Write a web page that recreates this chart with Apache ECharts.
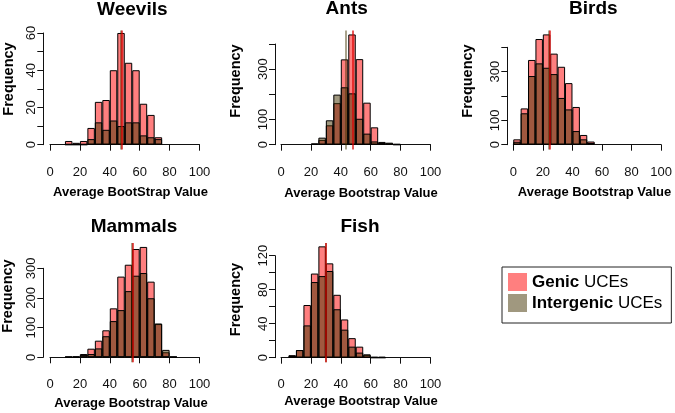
<!DOCTYPE html>
<html>
<head>
<meta charset="utf-8">
<script src="https://cdn.jsdelivr.net/npm/echarts@6/dist/echarts.min.js"></script>
<style>
  html, body { margin: 0; padding: 0; background: #fff; }
  #main { width: 675px; height: 413px; }
</style>
</head>
<body>
<div id="main"></div>
<script>
// bin midpoints (bins are 5 wide) and counts
var weevilsMids  = [12.5, 17.5, 22.5, 27.5, 32.5, 37.5, 42.5, 47.5, 52.5, 57.5, 62.5, 67.5, 72.5];
var weevilsGenic = [2, 1, 2, 9, 23, 24, 40, 60, 44, 40, 22, 16, 4];
var weevilsInter = [0, 0, 0, 3, 12, 8, 13, 10, 12, 12, 5, 4, 3];
var weevilsMeans = [48, 47.6];          // [genic, intergenic]
var weevilsYLabels = [0, 20, 40, 60];

var antsMids  = [22.5, 27.5, 32.5, 37.5, 42.5, 47.5, 52.5, 57.5, 62.5, 67.5, 72.5, 77.5];
var antsGenic = [3, 19, 77, 165, 339, 438, 340, 167, 69, 11, 5, 0];
var antsInter = [5, 28, 97, 199, 228, 204, 103, 44, 13, 7, 8, 3];
var antsMeans = [47.8, 43.3];
var antsYLabels = [0, 100, 300];

var birdsMids  = [2.5, 7.5, 12.5, 17.5, 22.5, 27.5, 32.5, 37.5, 42.5, 47.5, 52.5];
var birdsGenic = [22, 149, 348, 434, 453, 374, 320, 253, 155, 40, 13];
var birdsInter = [12, 129, 282, 334, 316, 290, 192, 145, 56, 22, 7];
var birdsMeans = [24.8, 23.7];
var birdsYLabels = [0, 100, 300];

var mammalsMids  = [12.5, 17.5, 22.5, 27.5, 32.5, 37.5, 42.5, 47.5, 52.5, 57.5, 62.5, 67.5, 72.5, 77.5, 82.5];
var mammalsGenic = [2, 2, 11, 29, 56, 91, 165, 272, 312, 365, 372, 255, 112, 17, 1];
var mammalsInter = [1, 2, 8, 11, 30, 71, 122, 159, 223, 275, 284, 199, 114, 25, 2];
var mammalsMeans = [55.4, 55];
var mammalsYLabels = [0, 100, 200, 300];

var fishMids  = [7.5, 12.5, 17.5, 22.5, 27.5, 32.5, 37.5, 42.5, 47.5, 52.5, 57.5, 62.5, 67.5];
var fishGenic = [3, 9, 62, 99, 131, 111, 74, 45, 23, 13, 3, 0, 0];
var fishInter = [2, 9, 38, 89, 96, 102, 57, 33, 13, 6, 4, 1, 1];
var fishMeans = [30.1, 30];
var fishYLabels = [0, 40, 80, 120];

var GENIC = 'rgba(255,0,0,0.5)';
var INTER = 'rgba(65,50,0,0.5)';
var FONT = 'Liberation Sans';
var KX = 1.495; // px per x unit

// panel layout (pixels)
var panels = [
  { title: 'Weevils', xlab: 'Average BootStrap Value', mids: weevilsMids, genic: weevilsGenic, inter: weevilsInter,
    means: weevilsMeans, yLabels: weevilsYLabels, yMax: 60, yStep: 10,
    x0: 50, yAxisX: 43.3, y0: 144.7, ky: 1.862, top: 30.5, bottom: 149.5,
    titleXY: [132.3, 10], xlabXY: [130.5, 192.3], ylabXY: [8.8, 79] },
  { title: 'Ants', xlab: 'Average Bootstrap Value', mids: antsMids, genic: antsGenic, inter: antsInter,
    means: antsMeans, yLabels: antsYLabels, yMax: 400, yStep: 100,
    x0: 281, yAxisX: 275, y0: 144.7, ky: 0.2517, top: 30.5, bottom: 149.5,
    titleXY: [346.7, 8.8], xlabXY: [361, 193], ylabXY: [236, 81] },
  { title: 'Birds', xlab: 'Average Bootstrap Value', mids: birdsMids, genic: birdsGenic, inter: birdsInter,
    means: birdsMeans, yLabels: birdsYLabels, yMax: 400, yStep: 100,
    x0: 513.3, yAxisX: 507.3, y0: 144.7, ky: 0.2435, top: 30.5, bottom: 149.5,
    titleXY: [593.3, 8.3], xlabXY: [594.5, 192.7], ylabXY: [468.3, 81] },
  { title: 'Mammals', xlab: 'Average Bootstrap Value', mids: mammalsMids, genic: mammalsGenic, inter: mammalsInter,
    means: mammalsMeans, yLabels: mammalsYLabels, yMax: 300, yStep: 100,
    x0: 50, yAxisX: 43.3, y0: 357.3, ky: 0.2967, top: 243, bottom: 362.3,
    titleXY: [134, 226.7], xlabXY: [131, 403], ylabXY: [7.5, 296] },
  { title: 'Fish', xlab: 'Average Bootstrap Value', mids: fishMids, genic: fishGenic, inter: fishInter,
    means: fishMeans, yLabels: fishYLabels, yMax: 120, yStep: 20,
    x0: 281, yAxisX: 275, y0: 357.7, ky: 0.85, top: 243, bottom: 362.3,
    titleXY: [360, 226.7], xlabXY: [361, 401.7], ylabXY: [236, 299.5] }
];

var axisLine = { show: true, lineStyle: { color: '#111', width: 1 } };
var axisTick = { show: true, length: 6, lineStyle: { color: '#111', width: 1 } };

var grid = [], xAxis = [], yAxis = [], series = [], graphic = [];

panels.forEach(function (p, i) {
  var g = 2 * i;
  // plot region grid, holds the bars and the x axis
  grid.push({ left: p.x0, top: p.top, width: 100 * KX, height: p.bottom - p.top });
  xAxis.push({
    type: 'value', gridIndex: g, min: 0, max: 100, interval: 20,
    axisLine: axisLine, axisTick: axisTick, splitLine: { show: false },
    axisLabel: { margin: 16, fontSize: 13, color: '#111', fontFamily: FONT }
  });
  yAxis.push({
    type: 'value', gridIndex: g, show: false, splitLine: { show: false },
    min: -(p.bottom - p.y0) / p.ky, max: (p.y0 - p.top) / p.ky
  });
  // narrow grid that only carries the y axis (0..yMax like R draws it)
  grid.push({ left: p.yAxisX, top: p.y0 - p.yMax * p.ky, width: 1, height: p.yMax * p.ky });
  xAxis.push({ type: 'value', gridIndex: g + 1, show: false, min: 0, max: 1 });
  yAxis.push({
    type: 'value', gridIndex: g + 1, min: 0, max: p.yMax, interval: p.yStep,
    axisLine: axisLine, axisTick: axisTick, splitLine: { show: false },
    axisLabel: {
      rotate: 90, margin: 5, fontSize: 13, color: '#111', fontFamily: FONT,
      formatter: function (v) { return p.yLabels.indexOf(v) >= 0 ? String(v) : ''; }
    }
  });

  series.push({
    type: 'bar', name: 'Genic UCEs', xAxisIndex: g, yAxisIndex: g,
    data: p.mids.map(function (m, j) { return [m, p.genic[j]]; }),
    barWidth: 5 * KX, barGap: '-100%',
    itemStyle: { color: GENIC, borderColor: '#000', borderWidth: 1 }
  });
  series.push({
    type: 'bar', name: 'Intergenic UCEs', xAxisIndex: g, yAxisIndex: g,
    data: p.mids.map(function (m, j) { return [m, p.inter[j]]; }),
    barWidth: 5 * KX, barGap: '-100%',
    itemStyle: { color: INTER, borderColor: '#000', borderWidth: 1 },
    markLine: {
      silent: true, symbol: 'none', label: { show: false },
      lineStyle: { type: 'solid', width: 2 },
      data: [
        { xAxis: p.means[1], lineStyle: { color: 'rgba(65,50,0,0.45)', type: 'solid', width: 2 } },
        { xAxis: p.means[0], lineStyle: { color: 'rgba(220,0,0,0.65)', type: 'solid', width: 2 } }
      ]
    }
  });

  graphic.push({
    type: 'text', x: p.titleXY[0], y: p.titleXY[1],
    style: { text: p.title, align: 'center', verticalAlign: 'middle', fill: '#000',
             fontSize: 19, fontWeight: 'bold', fontFamily: FONT }
  });
  graphic.push({
    type: 'text', x: p.xlabXY[0], y: p.xlabXY[1],
    style: { text: p.xlab, align: 'center', verticalAlign: 'middle', fill: '#000',
             fontSize: 13, fontWeight: 'bold', fontFamily: FONT }
  });
  graphic.push({
    type: 'text', x: p.ylabXY[0], y: p.ylabXY[1], rotation: Math.PI / 2,
    style: { text: 'Frequency', align: 'center', verticalAlign: 'middle', fill: '#000',
             fontSize: 14.5, fontWeight: 'bold', fontFamily: FONT }
  });
});

var chart = echarts.init(document.getElementById('main'));
chart.setOption({
  animation: false,
  backgroundColor: '#fff',
  grid: grid,
  xAxis: xAxis,
  yAxis: yAxis,
  series: series,
  graphic: graphic,
  legend: {
    orient: 'vertical', left: 502, top: 267,
    data: ['Genic UCEs', 'Intergenic UCEs'],
    icon: 'rect', itemWidth: 19, itemHeight: 18, itemGap: 3,
    borderColor: '#222', borderWidth: 1, padding: [6, 9, 11, 6],
    itemStyle: { borderWidth: 0 },
    formatter: function (n) {
      var parts = n.split(' ');
      return '{b|' + parts[0] + '} ' + parts[1];
    },
    textStyle: {
      fontSize: 17, color: '#000', fontFamily: FONT,
      rich: { b: { fontSize: 17, fontWeight: 'bold', color: '#000', fontFamily: FONT } }
    }
  }
});
</script>
</body>
</html>
